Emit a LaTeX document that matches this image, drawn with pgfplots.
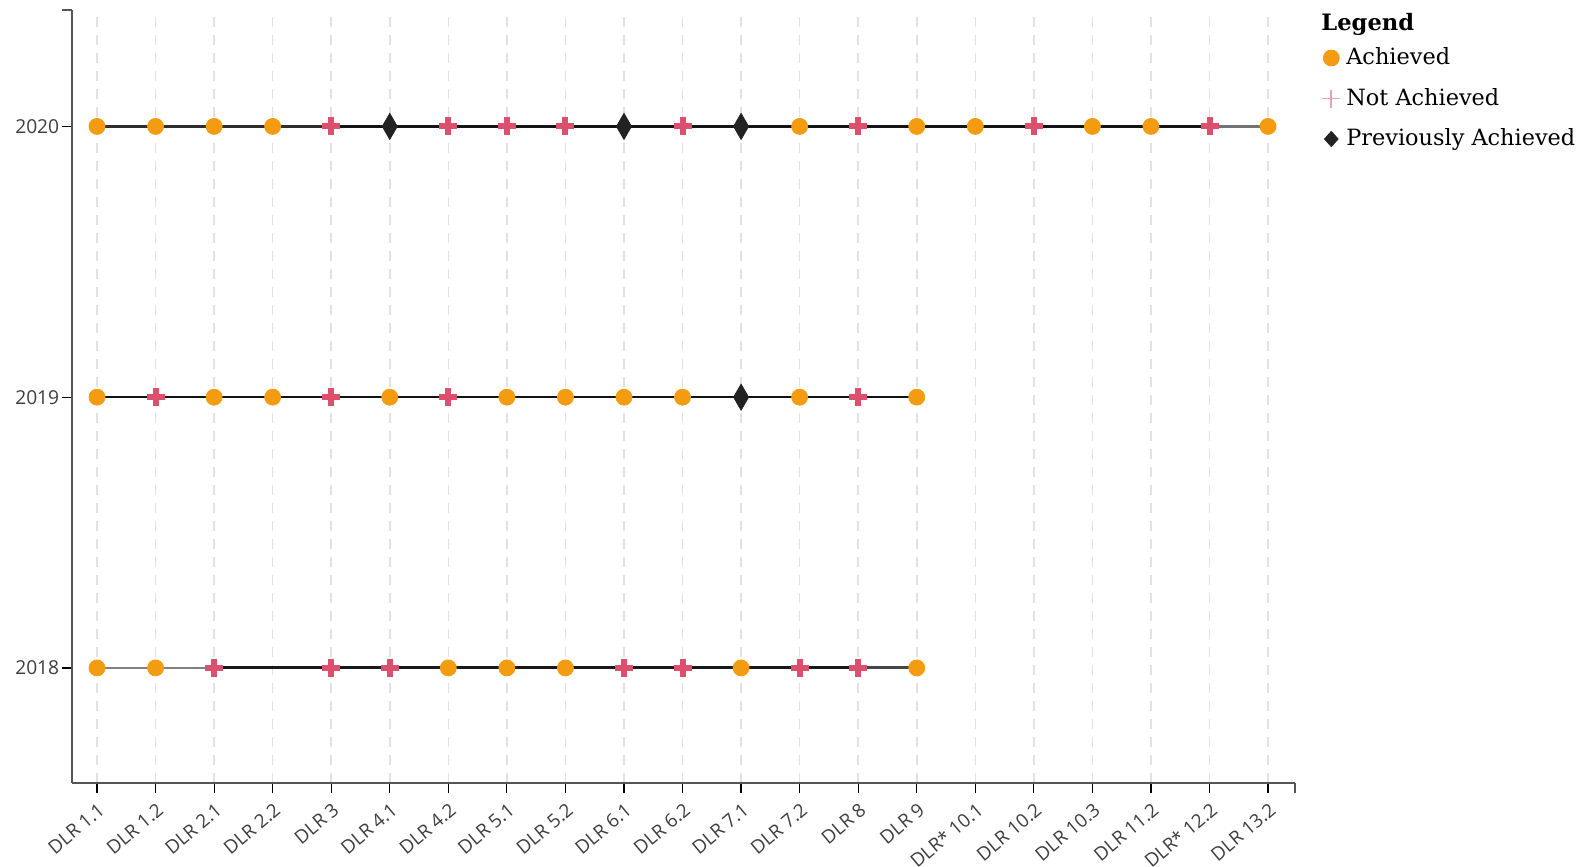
\documentclass[border=0pt]{standalone}
\usepackage{fontspec}
\setmainfont{DejaVu Serif}
\newfontfamily\tickfont{Open Sans}
\usepackage{pgfplots}
\pgfplotsset{compat=1.18}
\definecolor{achcol}{HTML}{F39C12}
\definecolor{notcol}{HTML}{DC506E}
\definecolor{notleg}{HTML}{E8A3B2}
\definecolor{prevcol}{HTML}{222222}
\definecolor{axcol}{HTML}{555555}
\definecolor{gridcol}{HTML}{E2E2E2}
\definecolor{tickcol}{HTML}{3D3D3D}
\begin{document}
\begin{tikzpicture}
\path[use as bounding box] (0,0) rectangle (792.5pt,433.5pt);
\begin{axis}[
  at={(36pt,42pt)}, anchor=south west,
  scale only axis, width=611.5pt, height=386.5pt,
  xmin=-0.427, xmax=20.46, ymin=2017.575, ymax=2020.43,
  axis x line=bottom, axis y line=left,
  axis line style={-, draw=axcol, line width=1.2pt},
  xtick={0,...,20},
  xticklabels={DLR 1.1,DLR 1.2,DLR 2.1,DLR 2.2,DLR 3,DLR 4.1,DLR 4.2,DLR 5.1,DLR 5.2,DLR 6.1,DLR 6.2,DLR 7.1,DLR 7.2,DLR 8,DLR 9,DLR* 10.1,DLR 10.2,DLR 10.3,DLR 11.2,DLR* 12.2,DLR 13.2},
  ytick={2018,2019,2020}, yticklabels={2018,2019,2020},
  tick align=outside, major tick length=5pt,
  tick style={draw=black, line width=0.6pt},
  xticklabel style={font=\tickfont\fontsize{9.4}{11}\selectfont, text=tickcol, inner sep=0pt, anchor=east, xshift=2.5pt, yshift=-7pt, rotate=40},
  yticklabel style={font=\tickfont\fontsize{9.6}{11}\selectfont, text=tickcol, inner sep=0pt, anchor=east, xshift=-1.2pt},
  xmajorgrids, ymajorgrids=false,
  major grid style={draw=gridcol, line width=0.75pt, dash pattern=on 5pt off 4pt},
  clip=false,
  legend style={at={(rel axis cs:1.022,0.9646)}, anchor=north west, draw=none, fill=none,
    font=\fontsize{11.2}{13}\selectfont, column sep=3pt, inner sep=0pt,
    nodes={inner xsep=0pt, inner ysep=4.375pt, text height=9pt, text depth=2.5pt, anchor=west}},
  legend cell align=left,
  legend image code/.code={\path (0pt,0pt) (8pt,0pt); \draw[#1] plot coordinates {(4pt,0pt)};},
]
% connecting lines
\addplot[forget plot, draw=black!82, line width=1.5pt] coordinates {(0,2020) (4,2020)};
\addplot[forget plot, draw=black!92, line width=1.5pt] coordinates {(4,2020) (19,2020)};
\addplot[forget plot, draw=black!55, line width=1.5pt] coordinates {(19,2020) (20,2020)};
\addplot[forget plot, draw=black!93, line width=0.75pt] coordinates {(0,2019) (14,2019)};
\addplot[forget plot, draw=black!50, line width=1.3pt] coordinates {(0,2018) (2,2018)};
\addplot[forget plot, draw=black!90, line width=1.5pt] coordinates {(2,2018) (13,2018)};
\addplot[forget plot, draw=black!72, line width=1.5pt] coordinates {(13,2018) (14,2018)};
% markers
\addplot[forget plot, only marks, mark=*, mark size=4pt, color=achcol, mark options={draw=achcol, fill=achcol}] coordinates {
(0,2020) (1,2020) (2,2020) (3,2020) (12,2020) (14,2020) (15,2020) (17,2020) (18,2020) (20,2020)
(0,2019) (2,2019) (3,2019) (5,2019) (7,2019) (8,2019) (9,2019) (10,2019) (12,2019) (14,2019)
(0,2018) (1,2018) (6,2018) (7,2018) (8,2018) (11,2018) (14,2018)};
\addplot[forget plot, only marks, mark=+, mark size=4.5pt, color=notcol, mark options={line width=3pt, line cap=butt}] coordinates {
(4,2020) (6,2020) (7,2020) (8,2020) (10,2020) (13,2020) (16,2020) (19,2020)
(1,2019) (4,2019) (6,2019) (13,2019)
(2,2018) (4,2018) (5,2018) (9,2018) (10,2018) (12,2018) (13,2018)};
\addplot[forget plot, only marks, mark=diamond*, mark size=6.5pt, color=prevcol, mark options={xscale=0.77, draw=prevcol, fill=prevcol}] coordinates {
(5,2020) (9,2020) (11,2020) (11,2019)};
% legend
\addlegendimage{only marks, mark=*, mark size=4pt, color=achcol, mark options={fill=achcol}}
\addlegendentry{Achieved}
\addlegendimage{only marks, mark=+, mark size=4.5pt, color=notleg, mark options={line width=0.9pt}}
\addlegendentry{Not Achieved}
\addlegendimage{only marks, mark=diamond*, mark size=3.8pt, color=prevcol, mark options={xscale=1.2, fill=prevcol}}
\addlegendentry{Previously Achieved}
% outer ticks of the axes
\draw[draw=axcol, line width=0.6pt] (rel axis cs:0,1) -- ++(-5pt,0pt);
\draw[draw=axcol, line width=0.6pt] (rel axis cs:1,0) -- ++(0pt,-5pt);
\node[anchor=west, inner sep=0pt, font=\bfseries\fontsize{11.3}{13}\selectfont] at (rel axis cs:1.0213,0.9819) {Legend};
\end{axis}
\end{tikzpicture}
\end{document}
